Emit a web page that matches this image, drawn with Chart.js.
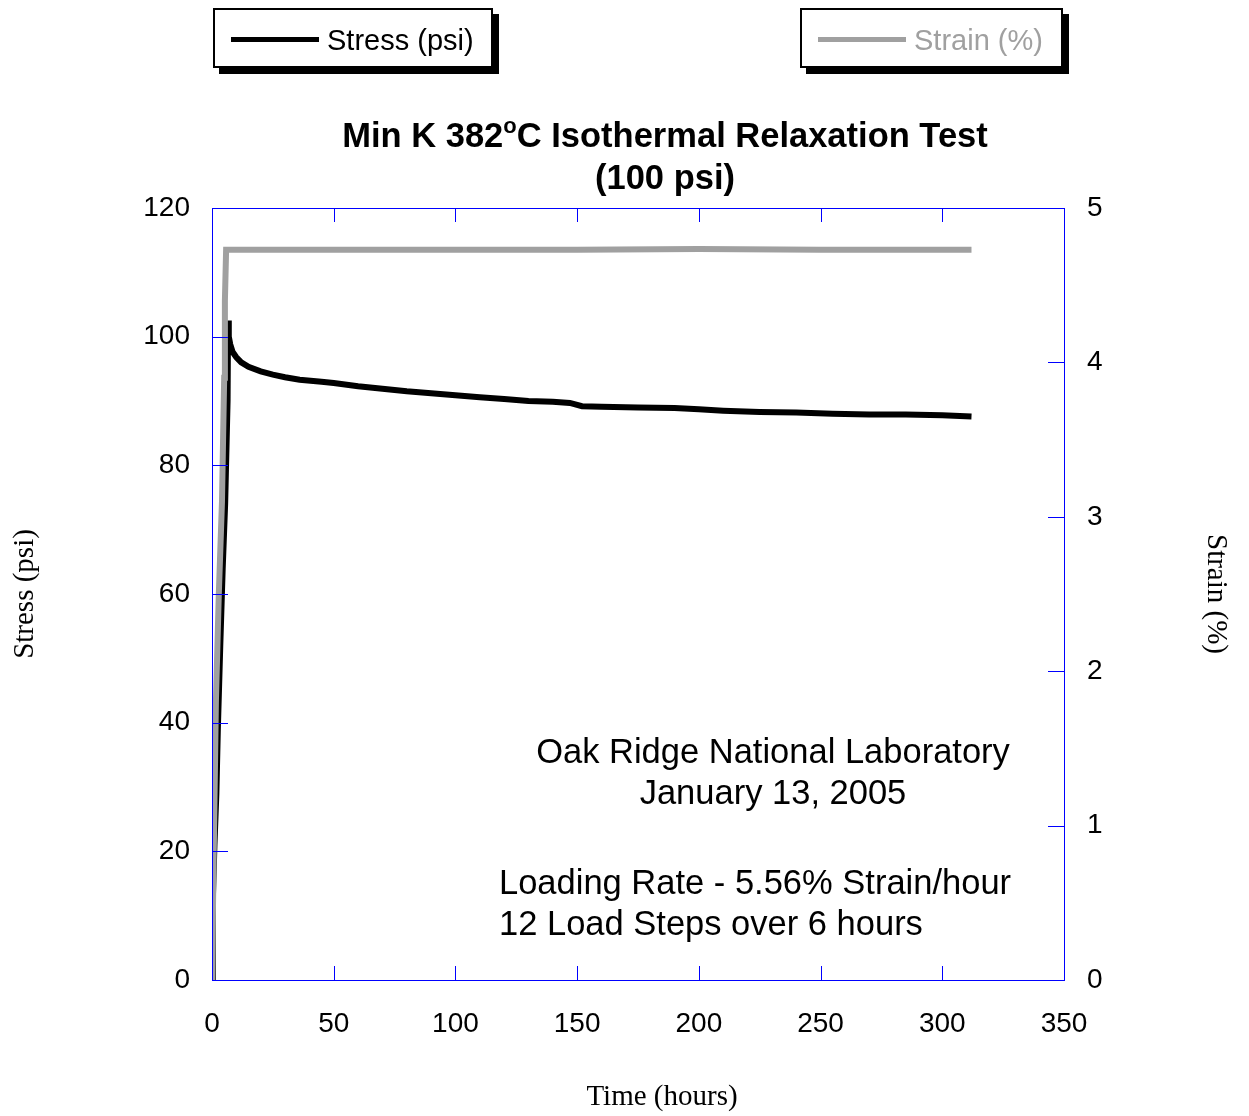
<!DOCTYPE html>
<html>
<head>
<meta charset="utf-8">
<script src="https://cdn.jsdelivr.net/npm/chart.js@4"></script>
<style>
  body { margin: 0; background: #fff; }
  #wrap { position: relative; width: 1249px; height: 1116px; font-family: "Liberation Sans", Arial, sans-serif; }
  #wrap canvas { position: absolute; left: 0; top: 0; }
  .legbox { position: absolute; top: 8px; height: 56px; border: 2px solid #000; background: #fff; box-shadow: 6px 6px 0 #000; }
  .legbox .swatch { position: absolute; left: 16px; top: 27px; width: 88px; height: 5px; }
  .legbox .lbl { position: absolute; left: 112px; top: 12px; font-size: 29px; line-height: 36px; white-space: nowrap; }
  .title { position: absolute; left: 265px; width: 800px; top: 114px; text-align: center; font-weight: bold; font-size: 34.5px; line-height: 42px; }
  .title sup { font-size: 22px; vertical-align: 14px; line-height: 0; }
  .note { position: absolute; font-size: 34.5px; line-height: 41px; white-space: nowrap; }
  .xtitle { position: absolute; left: 462px; width: 400px; top: 1078px; text-align: center; font-family: "Liberation Serif", "Times New Roman", serif; font-size: 29px; line-height: 34px; }
</style>
</head>
<body>
<div id="wrap">
  <canvas id="relaxChart"></canvas>
  <div class="legbox" style="left:213px;width:276px;">
    <div class="swatch" style="background:#000;"></div>
    <div class="lbl" style="color:#000;">Stress (psi)</div>
  </div>
  <div class="legbox" style="left:800px;width:259px;">
    <div class="swatch" style="background:#a0a0a0;"></div>
    <div class="lbl" style="color:#a0a0a0;">Strain (%)</div>
  </div>
  <div class="title">Min K 382<sup>o</sup>C Isothermal Relaxation Test<br>(100 psi)</div>
  <div class="note" style="left:473px;width:600px;top:731px;text-align:center;">Oak Ridge National Laboratory<br>January 13, 2005</div>
  <div class="note" style="left:499px;top:862px;">Loading Rate - 5.56% Strain/hour<br>12 Load Steps over 6 hours</div>
  <div class="xtitle">Time (hours)</div>
</div>
<script>
// stress vs time (hours, psi)
const stressTime = [0, 0.3, 1.0, 1.8, 2.4, 3.4, 4.4, 5.4, 5.9, 6.4, 6.6, 6.9, 7.5, 8.5, 10, 12, 15, 20, 25, 30, 36,
  45, 50, 60, 70, 80, 90, 100, 110, 120, 130, 140, 147, 152, 160, 175, 190, 200, 210, 225, 240, 255, 270, 285, 300, 312];
const stressPsi = [0, 12, 21, 29, 39, 52, 64, 74, 82, 90, 102.5, 100, 98.8, 97.6, 96.8, 96.0, 95.3, 94.6, 94.1, 93.7, 93.3,
  93.0, 92.8, 92.3, 91.9, 91.5, 91.2, 90.9, 90.6, 90.3, 90.0, 89.9, 89.7, 89.2, 89.1, 89.0, 88.9, 88.7, 88.5, 88.3, 88.2, 88.0, 87.9, 87.9, 87.8, 87.6];

// strain vs time (hours, %)
const strainTime = [0, 0.6, 1.6, 2.8, 4.1, 5.0, 5.3, 5.8, 10, 50, 100, 150, 200, 250, 312];
const strainPct = [0, 0.7, 1.8, 2.5, 3.1, 3.9, 4.4, 4.73, 4.73, 4.73, 4.73, 4.73, 4.735, 4.73, 4.73];

const xTicks = [0, 50, 100, 150, 200, 250, 300, 350];
const stressTicks = [0, 20, 40, 60, 80, 100, 120];
const strainTicks = [0, 1, 2, 3, 4, 5];

const axisBlue = '#0000ff';
const tickFont = { family: '"Liberation Sans", Arial, sans-serif', size: 28 };
const titleFont = { family: '"Liberation Serif", "Times New Roman", serif', size: 29 };

// frame and inward tick marks, like the spreadsheet original
const innerTicks = {
  id: 'innerTicks',
  afterDatasetsDraw(chart) {
    const { ctx, chartArea: a, scales } = chart;
    ctx.save();
    ctx.strokeStyle = axisBlue;
    ctx.lineWidth = 1;
    ctx.beginPath();
    scales.x.ticks.forEach(t => {
      const px = Math.round(scales.x.getPixelForValue(t.value)) + 0.5;
      ctx.moveTo(px, a.bottom); ctx.lineTo(px, a.bottom - 14);
      ctx.moveTo(px, a.top); ctx.lineTo(px, a.top + 14);
    });
    scales.y.ticks.forEach(t => {
      const py = Math.round(scales.y.getPixelForValue(t.value)) + 0.5;
      ctx.moveTo(a.left, py); ctx.lineTo(a.left + 16, py);
    });
    scales.y2.ticks.forEach(t => {
      const py = Math.round(scales.y2.getPixelForValue(t.value)) + 0.5;
      ctx.moveTo(a.right, py); ctx.lineTo(a.right - 16, py);
    });
    ctx.stroke();
    ctx.strokeRect(a.left + 0.5, a.top + 0.5, a.right - a.left, a.bottom - a.top);
    ctx.restore();
  }
};

const data = {
  datasets: [{
    label: 'Stress (psi)',
    data: stressTime.map((t, i) => ({ x: t, y: stressPsi[i] })),
    borderColor: '#000000',
    backgroundColor: '#000000',
    borderWidth: 6,
    pointRadius: 0,
    tension: 0,
    yAxisID: 'y',
    order: 2
  }, {
    label: 'Strain (%)',
    data: strainTime.map((t, i) => ({ x: t, y: strainPct[i] })),
    borderColor: '#a0a0a0',
    backgroundColor: '#a0a0a0',
    borderWidth: 6,
    borderJoinStyle: 'miter',
    pointRadius: 0,
    tension: 0,
    yAxisID: 'y2',
    order: 1
  }]
};

const config = {
  type: 'line',
  data,
  options: {
    animation: false,
    responsive: false,
    layout: { padding: { top: 208, left: 0, right: 0, bottom: 0 } },
    scales: {
      x: {
        type: 'linear',
        min: 0,
        max: 350,
        afterBuildTicks: s => { s.ticks = xTicks.map(v => ({ value: v })); },
        afterFit: s => { s.height = 136; },
        grid: { display: false, drawTicks: false },
        border: { display: false },
        ticks: { color: '#000', font: tickFont, padding: 27, maxRotation: 0 }
      },
      y: {
        type: 'linear',
        position: 'left',
        min: 0,
        max: 120,
        afterBuildTicks: s => { s.ticks = stressTicks.map(v => ({ value: v })); },
        afterFit: s => { s.width = 212; },
        grid: { display: false, drawTicks: false },
        border: { display: false },
        ticks: { color: '#000', font: tickFont, padding: 22 },
        title: { display: true, text: 'Stress (psi)', color: '#000', font: titleFont, padding: { top: 8, bottom: 0 } }
      },
      y2: {
        type: 'linear',
        position: 'right',
        min: 0,
        max: 5,
        afterBuildTicks: s => { s.ticks = strainTicks.map(v => ({ value: v })); },
        afterFit: s => { s.width = 185; },
        grid: { display: false, drawTicks: false },
        border: { display: false },
        ticks: { color: '#000', font: tickFont, padding: 23 },
        title: { display: true, text: 'Strain (%)', color: '#000', font: titleFont, padding: { top: 16, bottom: 0 } }
      }
    },
    plugins: {
      legend: { display: false },
      tooltip: { enabled: false }
    }
  },
  plugins: [innerTicks]
};

const canvas = document.getElementById('relaxChart');
canvas.width = 1249;
canvas.height = 1116;
new Chart(canvas, config);
</script>
</body>
</html>
